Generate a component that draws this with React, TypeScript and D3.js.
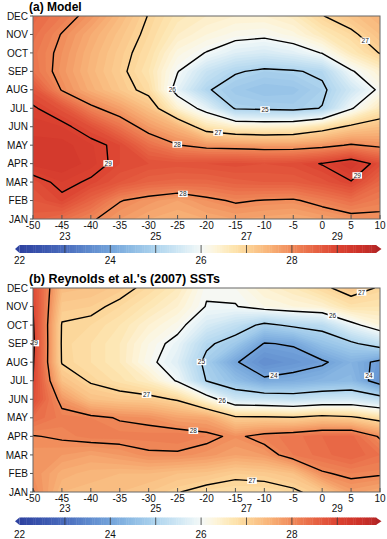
import React from "react";
import * as d3 from "d3";

const months = ["JAN", "FEB", "MAR", "APR", "MAY", "JUN", "JUL", "AUG", "SEP", "OCT", "NOV", "DEC"];
const longitudes = [-50, -45, -40, -35, -30, -25, -20, -15, -10, -5, 0, 5, 10];
const lonTicks = [-50, -45, -40, -35, -30, -25, -20, -15, -10, -5, 0, 5, 10];
const barLabelsBelow = [22, 24, 26, 28];
const barLabelsAbove = [23, 25, 27, 29];
const barDividers = [23, 24, 25, 26, 27, 28, 29];
const contourLevels = [24, 25, 26, 27, 28, 29];

// rows: JAN..DEC, columns: longitudes -50..10
const modelSST = [
  [28.55, 28.35, 28.05, 27.8, 27.6, 27.5, 27.6, 27.7, 27.65, 27.6, 27.7, 27.85, 27.9],
  [28.7, 28.92, 28.5, 28.02, 27.85, 27.7, 27.9, 28.05, 27.98, 27.95, 28.15, 28.35, 28.15],
  [28.85, 29.1, 28.95, 28.7, 28.5, 28.45, 28.45, 28.55, 28.6, 28.6, 28.75, 28.98, 28.45],
  [29.25, 29.3, 29.15, 28.9, 28.8, 28.75, 28.8, 28.85, 28.8, 28.85, 29.02, 29.3, 28.85],
  [29.25, 29.25, 29.12, 28.9, 28.35, 28.02, 27.85, 27.8, 27.75, 27.75, 27.85, 28.05, 27.9],
  [29.15, 29.1, 28.8, 28.3, 27.8, 27.45, 26.7, 26.45, 26.4, 26.45, 26.75, 27.1, 27.3],
  [29.05, 28.75, 28.1, 27.75, 27.3, 26.4, 25.8, 24.95, 24.9, 24.85, 25.02, 25.95, 26.6],
  [28.75, 27.97, 27.55, 27.2, 26.85, 25.8, 25.05, 24.75, 24.6, 24.65, 24.9, 25.5, 26.1],
  [28.3, 27.85, 27.45, 27.1, 26.7, 26.02, 25.4, 25.05, 24.9, 24.95, 25.1, 25.95, 26.4],
  [28.25, 27.9, 27.5, 27.15, 26.8, 26.25, 25.98, 25.7, 25.6, 25.75, 26.02, 26.6, 27.02],
  [28.35, 27.98, 27.6, 27.25, 26.9, 26.5, 26.3, 26.15, 26.1, 26.25, 26.6, 26.9, 27.3],
  [28.45, 28.2, 27.85, 27.4, 26.98, 26.65, 26.5, 26.4, 26.4, 26.55, 26.98, 27.25, 27.5],
];

const reynoldsSST = [
  [28.02, 27.4, 27.35, 27.3, 27.2, 27.02, 26.85, 26.8, 26.8, 26.92, 27.2, 27.75, 27.6],
  [27.9, 27.55, 27.45, 27.4, 27.4, 27.3, 27.25, 27.1, 27.15, 27.3, 27.95, 28.1, 28.05],
  [27.85, 27.8, 27.7, 27.8, 27.95, 27.95, 27.85, 27.7, 27.8, 28.2, 28.35, 28.5, 28.3],
  [27.98, 28.05, 28.15, 28.15, 28.15, 28.2, 28.1, 27.92, 28.15, 28.25, 28.4, 28.45, 27.95],
  [28.4, 28.15, 28.1, 27.97, 27.9, 27.7, 27.65, 27.1, 27.1, 27.05, 27.2, 27.1, 26.8],
  [28.85, 27.85, 27.3, 27.2, 27.15, 26.95, 26.3, 25.5, 25.45, 25.35, 25.5, 25.55, 25.3],
  [29.0, 27.3, 26.95, 26.75, 26.5, 25.95, 24.98, 24.55, 24.1, 24.2, 24.35, 24.45, 23.7],
  [29.05, 26.97, 26.8, 26.6, 26.12, 25.7, 24.85, 24.05, 23.6, 23.75, 23.92, 24.3, 23.85],
  [29.1, 26.95, 26.8, 26.6, 26.2, 25.85, 25.1, 24.75, 23.97, 24.05, 24.6, 24.9, 25.3],
  [29.05, 26.97, 26.9, 26.7, 26.4, 26.15, 25.6, 25.3, 24.87, 25.1, 25.2, 25.85, 26.3],
  [29.0, 27.15, 27.1, 26.9, 26.65, 26.4, 25.98, 25.98, 26.2, 26.3, 26.4, 26.75, 26.7],
  [28.9, 27.35, 27.3, 27.15, 26.88, 26.6, 26.05, 26.1, 26.4, 26.6, 26.9, 27.2, 26.95],
];

// contour label anchors (level, longitude, month index)
const modelLabels = [
  { level: 26, lon: -26.6, month: 7.1 },
  { level: 25, lon: -9.9, month: 5.64 },
  { level: 27, lon: -18.0, month: 4.66 },
  { level: 28, lon: -25.1, month: 4.0 },
  { level: 29, lon: -36.5, month: 3.03 },
  { level: 28, lon: -24.0, month: 1.52 },
  { level: 29, lon: 7.1, month: 2.0 },
  { level: 27, lon: 7.1, month: 9.54 },
];
const reynoldsLabels = [
  { level: 29, lon: -49.4, month: 8.03 },
  { level: 27, lon: -30.3, month: 5.39 },
  { level: 26, lon: -17.3, month: 4.9 },
  { level: 26, lon: 1.9, month: 9.6 },
  { level: 27, lon: 7.1, month: 10.5 },
  { level: 25, lon: -20.8, month: 7.0 },
  { level: 24, lon: -8.1, month: 5.8 },
  { level: 24, lon: 8.65, month: 6.25 },
  { level: 28, lon: -22.3, month: 3.23 },
  { level: 27, lon: -12.1, month: 0.75 },
];

const colorValues = [21.9, 22, 22.5, 23, 23.5, 24, 24.5, 25, 25.5, 26, 26.3, 26.7, 27, 27.5, 28, 28.5, 29, 29.5, 30];
const colorHexes = [
  "#2b3d99", "#2e42a0", "#3a55ae", "#4a6cbd", "#5d88cc", "#73a3da", "#8fbde5", "#aed4ee", "#cfe7f4",
  "#f4f9f8", "#fdf5dc", "#fde5b0", "#fcd497", "#f8b378", "#f08a59", "#e76444", "#dc4331", "#cc3129", "#b02526",
];

const color = d3.scaleLinear<string>().domain(colorValues).range(colorHexes).interpolate(d3.interpolateRgb).clamp(true);

const FONT = "'Liberation Sans', Arial, sans-serif";
const PLOT_LEFT = 33;
const PLOT_RIGHT = 380;

type Cfg = {
  titleY: number;
  plotTop: number;
  plotBottom: number;
  lonLabelY: number;
  aboveLabelY: number;
  barTop: number;
  barH: number;
  belowLabelY: number;
};

function Panel({ id, grid, labels, title, titleSize, cfg }: { id: string; grid: number[][]; labels: any[]; title: string; titleSize: number; cfg: Cfg }) {
  const xs = d3.scaleLinear().domain([longitudes[0], longitudes[longitudes.length - 1]]).range([PLOT_LEFT, PLOT_RIGHT]);
  const ys = d3.scaleLinear().domain([0, months.length - 1]).range([cfg.plotBottom, cfg.plotTop]);
  const nx = longitudes.length;
  const ny = months.length;
  const flat = grid.flat();
  const gen = d3.contours().size([nx, ny]);
  const lonStep = longitudes[1] - longitudes[0];
  const toPx = (x: number, y: number) => [xs(longitudes[0] + (x - 0.5) * lonStep), ys(y - 0.5)];
  const proj = d3.geoTransform({
    point(this: any, x: number, y: number) {
      const p = toPx(x, y);
      this.stream.point(p[0], p[1]);
    },
  });
  const path = d3.geoPath(proj as any);

  const fillThresholds = d3.range(0, 82).map((i) => Math.round((21.9 + i * 0.1) * 100) / 100);
  const fills = fillThresholds.map((t) => ({ t, d: path(gen.contour(flat, t) as any) || "" }));
  const lines = contourLevels.map((lv) => ({ lv, c: gen.contour(flat, lv) }));

  const x0 = xs(longitudes[0]);
  const x1 = xs(longitudes[longitudes.length - 1]);
  const y0 = cfg.plotTop;
  const y1 = cfg.plotBottom;

  const snap = (level: number, lon: number, month: number) => {
    const tx = xs(lon);
    const ty = ys(month);
    const c = gen.contour(flat, level);
    let best = [tx, ty];
    let bd = Infinity;
    const onB = (p: number[]) => p[0] === 0 || p[0] === nx || p[1] === 0 || p[1] === ny;
    for (const poly of c.coordinates as any) {
      for (const ring of poly) {
        for (let k = 0; k < ring.length - 1; k++) {
          if (onB(ring[k]) && onB(ring[k + 1])) continue;
          const a = toPx(ring[k][0], ring[k][1]);
          const b = toPx(ring[k + 1][0], ring[k + 1][1]);
          const dx = b[0] - a[0];
          const dy = b[1] - a[1];
          const L = dx * dx + dy * dy;
          let u = L > 0 ? ((tx - a[0]) * dx + (ty - a[1]) * dy) / L : 0;
          u = Math.max(0, Math.min(1, u));
          const px = a[0] + u * dx;
          const py = a[1] + u * dy;
          if (px < x0 - 0.5 || px > x1 + 0.5 || py < y0 - 0.5 || py > y1 + 0.5) continue;
          const d = (px - tx) ** 2 + (py - ty) ** 2;
          if (d < bd) {
            bd = d;
            best = [px, py];
          }
        }
      }
    }
    return best;
  };

  const cb = d3.scaleLinear().domain([22, 30]).range([19.5, 382.7]);
  const barEnd = 29.85;
  const steps = d3.range(0, Math.round((barEnd - 22) / 0.05)).map((i) => 22 + i * 0.05);
  const barMid = cfg.barTop + cfg.barH / 2;

  return (
    <g>
      <defs>
        <clipPath id={`clip-${id}`}>
          <rect x={x0} y={y0} width={x1 - x0} height={y1 - y0} />
        </clipPath>
      </defs>
      <text x={29} y={cfg.titleY} fontFamily={FONT} fontWeight="bold" fontSize={titleSize} fill="#000">
        {title}
      </text>
      <g clipPath={`url(#clip-${id})`}>
        {fills.map((f) => (
          <path key={f.t} d={f.d} fill={color(f.t + 0.05)} stroke="none" />
        ))}
        {lines.map((l) => (
          <path key={l.lv} d={path(l.c as any) || ""} fill="none" stroke="#000" strokeWidth={1.4} strokeLinejoin="round" />
        ))}
      </g>
      {labels.map((lb, i) => {
        const p = snap(lb.level, lb.lon, lb.month);
        return (
          <g key={i} transform={`translate(${p[0]},${p[1]})`}>
            <rect x={-4.8} y={-3.2} width={9.6} height={6.4} fill="#fff" />
            <text textAnchor="middle" y={2.3} fontFamily={FONT} fontSize={6.5} fill="#222">
              {lb.level}
            </text>
          </g>
        );
      })}
      <rect x={x0} y={y0} width={x1 - x0} height={y1 - y0} fill="none" stroke="#666" strokeWidth={1} />
      {months.map((m, i) => (
        <g key={m}>
          <line x1={x0 - 3} x2={x0} y1={ys(i)} y2={ys(i)} stroke="#555" strokeWidth={1} />
          <text x={28} y={ys(i)} dy="0.36em" textAnchor="end" fontFamily={FONT} fontSize={10} fill="#111">
            {m}
          </text>
        </g>
      ))}
      {lonTicks.map((v) => (
        <g key={v}>
          <line x1={xs(v)} x2={xs(v)} y1={y1} y2={y1 - 4} stroke="#555" strokeWidth={1} />
          <text x={xs(v)} y={cfg.lonLabelY} textAnchor="middle" fontFamily={FONT} fontSize={10} fill="#111">
            {v}
          </text>
        </g>
      ))}
      {barLabelsAbove.map((v) => (
        <text key={v} x={cb(v)} y={cfg.aboveLabelY} textAnchor="middle" fontFamily={FONT} fontSize={10} fill="#111">
          {v}
        </text>
      ))}
      {steps.map((v) => (
        <rect key={v} x={cb(v)} y={cfg.barTop} width={cb(v + 0.05) - cb(v) + 0.4} height={cfg.barH} fill={color(v + 0.025)} />
      ))}
      <polygon points={`${cb(22)},${cfg.barTop} ${cb(22)},${cfg.barTop + cfg.barH} 15,${barMid}`} fill={color(22)} />
      <polygon points={`${cb(barEnd)},${cfg.barTop} ${cb(barEnd)},${cfg.barTop + cfg.barH} 381.5,${barMid}`} fill={color(30)} />
      {barDividers.map((v) => (
        <line key={v} x1={cb(v)} x2={cb(v)} y1={cfg.barTop} y2={cfg.barTop + cfg.barH} stroke="#333" strokeWidth={0.8} />
      ))}
      {barLabelsBelow.map((v) => (
        <text key={v} x={cb(v)} y={cfg.belowLabelY} textAnchor="middle" fontFamily={FONT} fontSize={10} fill="#111">
          {v}
        </text>
      ))}
    </g>
  );
}

export default function App() {
  const cfgA: Cfg = { titleY: 11, plotTop: 16, plotBottom: 219, lonLabelY: 229, aboveLabelY: 239.5, barTop: 245, barH: 8, belowLabelY: 264 };
  const cfgB: Cfg = { titleY: 283, plotTop: 288, plotBottom: 492, lonLabelY: 502, aboveLabelY: 511.5, barTop: 517.5, barH: 7.5, belowLabelY: 538 };
  return (
    <svg width={387} height={539} style={{ position: "absolute", left: 0, top: 0, background: "#fff" }}>
      <rect x={0} y={0} width={387} height={539} fill="#fff" />
      <Panel id="a" grid={modelSST} labels={modelLabels} title="(a) Model" titleSize={12} cfg={cfgA} />
      <Panel id="b" grid={reynoldsSST} labels={reynoldsLabels} title="(b) Reynolds et al.'s (2007) SSTs" titleSize={12.5} cfg={cfgB} />
    </svg>
  );
}
